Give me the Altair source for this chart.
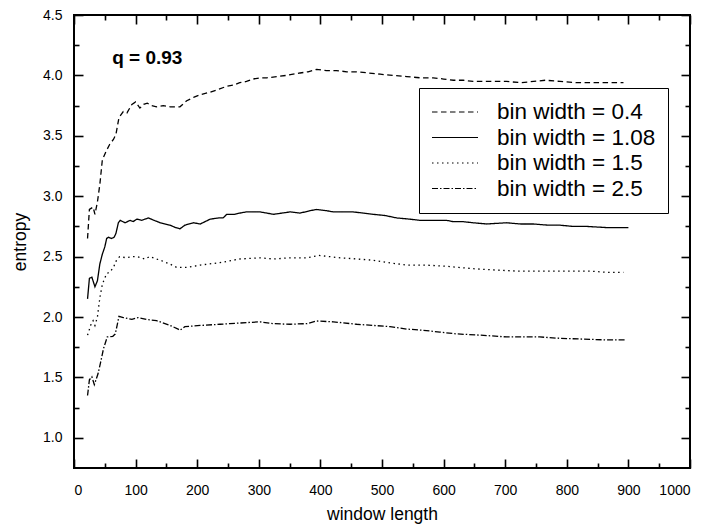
import altair as alt
import pandas as pd

SERIES = ["bin width = 0.4", "bin width = 1.08", "bin width = 1.5", "bin width = 2.5"]
DASHES = [[5.5, 3.5], [1, 0], [1.5, 3.5], [6, 2, 1.5, 2]]

X_04 = [22, 25, 31, 34, 38, 42, 46, 52, 58, 64, 68, 73, 80, 86, 94, 100, 107, 113, 119, 126, 134, 145, 156, 165, 172,
        183, 195, 205, 220, 232, 248, 259, 269, 280, 291, 302, 313, 329, 345, 367, 380, 394, 410, 426, 443, 459, 478,
        497, 518, 540, 562, 583, 600, 616, 632, 648, 670, 702, 725, 746, 765, 789, 815, 843, 870, 892]
Y_04 = [2.65, 2.89, 2.91, 2.85, 2.95, 3.10, 3.30, 3.37, 3.43, 3.47, 3.51, 3.65, 3.70, 3.69, 3.76, 3.78, 3.73, 3.76,
        3.77, 3.75, 3.74, 3.75, 3.74, 3.74, 3.74, 3.79, 3.82, 3.84, 3.86, 3.88, 3.91, 3.92, 3.94, 3.95, 3.97, 3.98,
        3.98, 3.99, 4.00, 4.02, 4.03, 4.05, 4.04, 4.04, 4.03, 4.03, 4.02, 4.01, 4.00, 3.99, 3.98, 3.98, 3.97, 3.96,
        3.96, 3.95, 3.95, 3.95, 3.94, 3.95, 3.96, 3.95, 3.94, 3.94, 3.94, 3.94]

X_108 = [22, 25, 29, 34, 38, 42, 46, 50, 53, 56, 61, 65, 68, 72, 75, 83, 91, 96, 102, 110, 115, 121, 130, 140, 156,
         165, 172, 180, 194, 205, 221, 235, 242, 248, 260, 269, 280, 302, 324, 351, 367, 383, 394, 410, 421, 437, 453,
         470, 486, 505, 524, 545, 562, 585, 605, 615, 630, 648, 670, 702, 725, 746, 770, 789, 810, 832, 865, 900]
Y_108 = [2.15, 2.32, 2.33, 2.25, 2.30, 2.44, 2.52, 2.58, 2.65, 2.66, 2.65, 2.66, 2.69, 2.78, 2.80, 2.78, 2.80, 2.79,
         2.81, 2.80, 2.81, 2.82, 2.80, 2.78, 2.76, 2.74, 2.73, 2.76, 2.78, 2.77, 2.81, 2.82, 2.82, 2.85, 2.85, 2.86,
         2.87, 2.87, 2.85, 2.87, 2.86, 2.88, 2.89, 2.88, 2.87, 2.87, 2.87, 2.86, 2.85, 2.84, 2.82, 2.81, 2.80, 2.80,
         2.80, 2.79, 2.79, 2.78, 2.77, 2.78, 2.77, 2.77, 2.76, 2.76, 2.75, 2.75, 2.74, 2.74]

X_15 = [22, 28, 31, 34, 38, 42, 46, 53, 58, 64, 69, 74, 85, 95, 102, 115, 123, 140, 155, 167, 172, 183, 205, 237, 269,
        302, 324, 350, 378, 397, 432, 460, 486, 510, 540, 570, 605, 625, 648, 680, 719, 750, 784, 810, 838, 865, 892]
Y_15 = [1.85, 1.945, 1.97, 1.93, 2.00, 2.16, 2.27, 2.36, 2.37, 2.41, 2.47, 2.50, 2.49, 2.50, 2.50, 2.48, 2.50, 2.47,
        2.44, 2.41, 2.41, 2.41, 2.43, 2.45, 2.48, 2.49, 2.48, 2.49, 2.49, 2.51, 2.49, 2.48, 2.47, 2.45, 2.43, 2.43,
        2.42, 2.41, 2.40, 2.39, 2.38, 2.38, 2.38, 2.38, 2.38, 2.37, 2.37]

X_25 = [22, 25, 29, 33, 39, 43, 48, 54, 63, 67, 70, 73, 80, 94, 104, 118, 134, 156, 169, 172, 180, 205, 237, 253, 269,
        302, 324, 351, 378, 394, 421, 459, 486, 513, 540, 567, 594, 621, 659, 702, 730, 756, 783, 810, 838, 865, 897]
Y_25 = [1.35, 1.48, 1.505, 1.44, 1.53, 1.62, 1.74, 1.835, 1.84, 1.86, 1.93, 2.005, 1.995, 1.98, 1.995, 1.98, 1.97,
        1.93, 1.90, 1.89, 1.92, 1.93, 1.94, 1.945, 1.95, 1.96, 1.945, 1.94, 1.945, 1.967, 1.96, 1.94, 1.93, 1.92,
        1.90, 1.89, 1.875, 1.86, 1.85, 1.835, 1.835, 1.835, 1.825, 1.82, 1.815, 1.81, 1.81]

X_MAJOR = list(range(0, 1001, 100))
X_MINOR = list(range(50, 1000, 100))
Y_MAJOR = [1.0, 1.5, 2.0, 2.5, 3.0, 3.5, 4.0, 4.5]
Y_MINOR = [1.25, 1.75, 2.25, 2.75, 3.25, 3.75, 4.25]

ANNOT_TEXT = ["q = 0.93"]
ANNOT_X = [62]
ANNOT_Y = [4.14]

rows = []
for name, xs, ys in zip(SERIES, [X_04, X_108, X_15, X_25], [Y_04, Y_108, Y_15, Y_25]):
    for i, (a, b) in enumerate(zip(xs, ys)):
        rows.append({"series": name, "x": a, "y": b, "order": i})
df = pd.DataFrame(rows)
annot = pd.DataFrame({"x": ANNOT_X, "y": ANNOT_Y, "text": ANNOT_TEXT})

FONT = "Liberation Sans"
xscale = alt.Scale(domain=[0, 1000], nice=False, zero=False)
yscale = alt.Scale(domain=[0.75, 4.5], nice=False, zero=False)

MAJ, MIN = 9, 5


def ax(orient, values, size, labels=False, title=None, fmt=None, **kw):
    args = dict(orient=orient, values=values, tickSize=size, offset=-size, domain=False, grid=False,
                labels=labels, tickColor="black", tickWidth=1.6, tickOpacity=1, labelColor="black",
                labelFont=FONT, labelFontSize=14, titleFont=FONT, titleFontSize=17.5,
                titleFontWeight="normal", titleColor="black")
    args["title"] = title
    if fmt is not None:
        args["format"] = fmt
    args.update(kw)
    return alt.Axis(**args)


base = alt.Chart(df)

lines = base.mark_line(color="black", strokeWidth=1.3).encode(
    x=alt.X("x:Q", scale=xscale, axis=ax("bottom", X_MAJOR, MAJ, labels=True, title="window length",
                                         fmt="d", labelPadding=15, titlePadding=8)),
    y=alt.Y("y:Q", scale=yscale, axis=ax("left", Y_MAJOR, MAJ, labels=True, title="entropy",
                                         fmt=".1f", labelPadding=12, titlePadding=13)),
    strokeDash=alt.StrokeDash(
        "series:N",
        scale=alt.Scale(domain=SERIES, range=DASHES),
        legend=alt.Legend(title=None, orient="none", legendX=345, legendY=73, symbolType="stroke",
                          symbolSize=2116, symbolStrokeWidth=1.2, symbolStrokeColor="black",
                          clipHeight=24, rowPadding=1.5, labelFontSize=22.5, labelFont=FONT,
                          labelColor="black", labelOffset=18, padding=12, strokeColor="black",
                          fillColor="white"),
    ),
    order="order:Q",
)

inv1 = base.mark_point(opacity=0, size=0).encode(
    x=alt.X("x:Q", scale=xscale, axis=ax("top", X_MAJOR, MAJ)),
    y=alt.Y("y:Q", scale=yscale, axis=ax("right", Y_MAJOR, MAJ)),
)
inv2 = base.mark_point(opacity=0, size=0).encode(
    x=alt.X("x:Q", scale=xscale, axis=ax("bottom", X_MINOR, MIN)),
    y=alt.Y("y:Q", scale=yscale, axis=ax("left", Y_MINOR, MIN)),
)
inv3 = base.mark_point(opacity=0, size=0).encode(
    x=alt.X("x:Q", scale=xscale, axis=ax("top", X_MINOR, MIN)),
    y=alt.Y("y:Q", scale=yscale, axis=ax("right", Y_MINOR, MIN)),
)

label = alt.Chart(annot).mark_text(font=FONT, fontSize=19, fontWeight="bold", align="left",
                                   baseline="middle", color="black").encode(
    x=alt.X("x:Q", scale=xscale, axis=None),
    y=alt.Y("y:Q", scale=yscale, axis=None),
    text="text:N",
)

chart = alt.layer(lines, inv1, inv2, inv3, label).resolve_axis(
    x="independent", y="independent"
).properties(
    width=616, height=453,
    autosize=alt.AutoSizeParams(type="none"),
    padding={"left": 74, "top": 15, "right": 19, "bottom": 59},
    background="white",
).configure_view(stroke="black", strokeWidth=2)

chart.save("out.html", embed_options={"renderer": "svg", "actions": False})
